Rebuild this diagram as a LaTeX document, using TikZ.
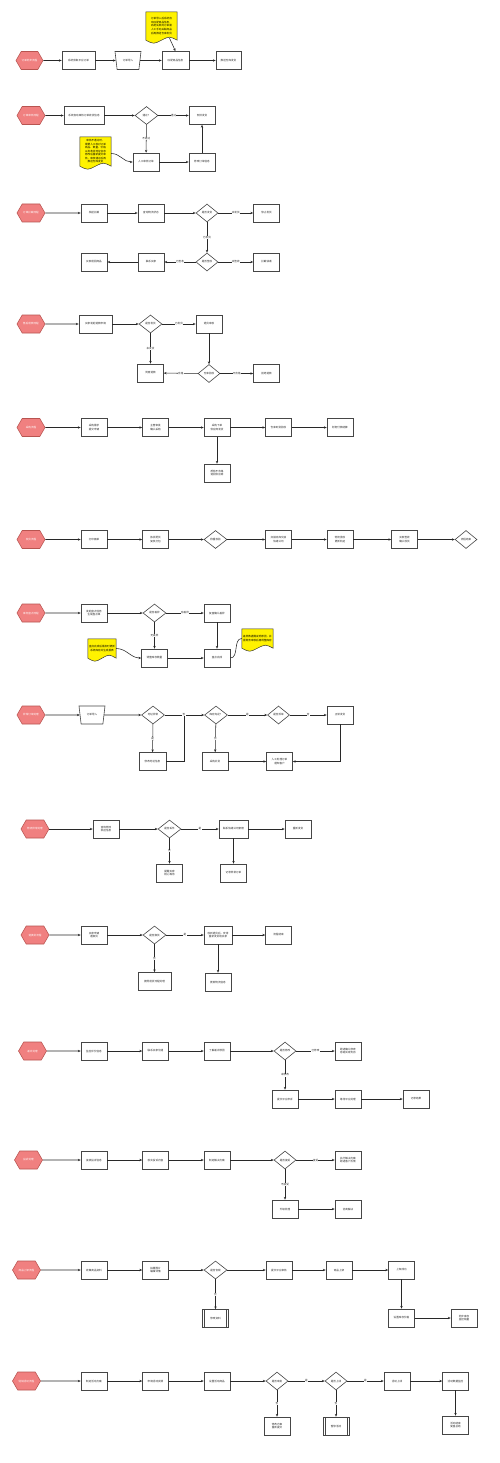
\documentclass[tikz,border=0pt]{standalone}
\usepackage{fontspec}
\setmainfont{Noto Sans CJK SC}
\usetikzlibrary{shapes.geometric,shapes.symbols,arrows.meta,backgrounds,calc}
\definecolor{hexfill}{RGB}{240,128,128}
\definecolor{hexdraw}{RGB}{184,84,80}
\definecolor{boxdraw}{RGB}{70,70,70}
\definecolor{linecol}{RGB}{40,40,40}
\definecolor{txt}{RGB}{40,40,40}
\definecolor{notefill}{RGB}{255,242,0}
\newcommand\tinyfs{\fontsize{2.6}{3.2}\selectfont}
\tikzset{
 hexa/.style={signal, signal to=west and east, signal pointer angle=120, draw=hexdraw, fill=hexfill, text=white, minimum width=27pt, minimum height=18pt, inner sep=0pt, font=\tinyfs, line width=0.55pt},
 box/.style={rectangle, draw=boxdraw, fill=white, text=txt, minimum width=26pt, minimum height=18pt, inner sep=0.5pt, align=center, font=\tinyfs, line width=0.6pt},
 dia/.style={diamond, draw=boxdraw, fill=white, text=txt, minimum width=23pt, minimum height=18pt, inner sep=0pt, aspect=1.3, font=\tinyfs, line width=0.6pt},
 trap/.style={trapezium, trapezium stretches=true, shape border rotate=180, trapezium left angle=72, trapezium right angle=72, draw=boxdraw, fill=white, text=txt, minimum width=26pt, minimum height=18pt, inner sep=0.5pt, font=\tinyfs, line width=0.6pt},
 proc/.style={box, path picture={\draw[boxdraw, line width=0.6pt] ([xshift=2.2pt]path picture bounding box.north west) -- ([xshift=2.2pt]path picture bounding box.south west) ([xshift=-2.2pt]path picture bounding box.north east) -- ([xshift=-2.2pt]path picture bounding box.south east);}},
 arr/.style={draw=linecol, line width=0.55pt, -{Stealth[length=2.8pt,width=2.3pt]}},
 ln/.style={draw=linecol, line width=0.55pt},
 lbl/.style={fill=white, inner sep=0.3pt, font=\tinyfs, text=txt},
 notetext/.style={align=center, text=black, inner sep=0.5pt},
 notebg/.style={fill=notefill, draw=black!80, line width=0.5pt}
}
% name, position, width, height, font, text
\newcommand\docnote[6]{%
 \node[notetext, minimum width=#3, minimum height=#4, font=#5] (#1) at #2 {#6};
 \begin{scope}[on background layer]
 \draw[notebg] (#1.north west) -- (#1.north east) -- (#1.south east)
   .. controls ($(#1.south east)!0.25!(#1.south west)+(0,4pt)$) .. (#1.south)
   .. controls ($(#1.south east)!0.75!(#1.south west)+(0,-4pt)$) .. (#1.south west) -- cycle;
 \end{scope}}
\begin{document}
\begin{tikzpicture}[x=1pt,y=-1pt]
\begin{scope}[on background layer]
\fill[white] (0,0) rectangle (500,1463);
\end{scope}
\useasboundingbox (0,0) rectangle (500,1463);

% ---------- Row 1
\node[hexa] (h1) at (29.5,60.5) {订单同步流程};
\node[box, minimum width=33pt] (a1) at (78.5,60.5) {系统获取平台订单};
\node[trap] (a2) at (128,60.5) {订单导入};
\node[box, minimum width=27pt] (a3) at (175.5,60.5) {匹配商品信息};
\node[box, minimum width=25pt] (a4) at (228.5,60.5) {推送仓库发货};
\docnote{n1}{(161.5,26)}{31pt}{28pt}{\fontsize{2.6}{3.9}\selectfont}{订单导入后系统自\\动匹配商品信息，\\匹配失败的订单需\\人工手动关联商品\\后再推送仓库发货}
\draw[arr] (h1) -- (a1);
\draw[arr] (a1) -- (a2);
\draw[arr] (a2) -- (a3);
\draw[arr] (a3) -- (a4);
\draw[arr] ([xshift=8pt,yshift=2pt]n1.south) -- (a3.north);

% ---------- Row 2
\node[hexa, minimum width=28pt] (h2) at (31,115.5) {订单审核流程};
\node[box, minimum width=40pt] (b1) at (84,115.5) {系统自动审核订单收货信息};
\node[dia] (bd) at (146.5,115.5) {通过？};
\node[box] (b2) at (202,115.5) {安排发货};
\node[box] (b3) at (146,162) {人工审核订单};
\node[box] (b4) at (202,162) {修改订单信息};
\docnote{n2}{(95.5,151.5)}{31pt}{29pt}{\fontsize{2.6}{3.5}\selectfont}{审核不通过时，\\需要人工核对订单\\商品、数量、价格\\以及收货地址信息\\修改后重新提交审\\核，审核通过后再\\推送仓库发货}
\draw[arr] (h2) -- (b1);
\draw[arr] (b1) -- (bd);
\draw[arr] (bd) -- node[lbl]{通过} (b2);
\draw[arr] (bd) -- node[lbl]{不通过} (b3);
\draw[arr] (b3) -- (b4);
\draw[arr] (b4) -- (b2);
\draw[arr] ([yshift=-2pt]n2.east) to[out=0,in=180] (b3.west);

% ---------- Row 3
\node[hexa, minimum width=28pt] (h3) at (31,213) {订单拦截流程};
\node[box] (c1) at (94,213) {发起拦截};
\node[box] (c2) at (151,213) {查询物流状态};
\node[dia, minimum width=22pt] (cd1) at (207,213) {是否发货};
\node[box] (c3) at (266.5,213) {停止发货};
\node[dia, minimum width=22pt] (cd2) at (207,262) {是否签收};
\node[box] (c4) at (266.5,262) {拦截快递};
\node[box] (c5) at (151,262) {联系买家};
\node[box] (c6) at (94,262) {买家退回商品};
\draw[arr] (h3) -- (c1);
\draw[arr] (c1) -- (c2);
\draw[arr] (c2) -- (cd1);
\draw[arr] (cd1) -- node[lbl]{未发货} (c3);
\draw[arr] (cd1) -- node[lbl]{已发货} (cd2);
\draw[arr] (cd2) -- node[lbl]{未签收} (c4);
\draw[arr] (cd2) -- node[lbl]{已签收} (c5);
\draw[arr] (c5) -- (c6);

% ---------- Row 4
\node[hexa, minimum width=28pt] (h4) at (31,324) {售后退款流程};
\node[box, minimum width=33pt] (e1) at (95.5,324) {买家发起退款申请};
\node[dia] (ed1) at (150.5,324) {是否发货};
\node[box] (e2) at (209,324) {退货审核};
\node[dia, minimum width=22pt] (ed2) at (209,373.5) {仓库验收};
\node[box] (e3) at (150.5,373) {同意退款};
\node[box] (e4) at (266.5,373.5) {拒绝退款};
\draw[arr] (h4) -- (e1);
\draw[arr] (e1) -- (ed1);
\draw[arr] (ed1) -- node[lbl]{已发货} (e2);
\draw[arr] (ed1) -- node[lbl]{未发货} (e3);
\draw[arr] (e2) -- (ed2);
\draw[arr] (ed2) -- node[lbl]{合格} (e3);
\draw[arr] (ed2) -- node[lbl]{不合格} (e4);

% ---------- Row 5
\node[hexa, minimum width=28pt] (h5) at (31,427.5) {采购流程};
\node[box] (f1) at (94,427.5) {采购需求\\提交申请};
\node[box] (f2) at (155.5,427.5) {主管审批\\确认采购};
\node[box] (f3) at (217,427.5) {采购下单\\供应商发货};
\node[box] (f4) at (278.5,427.5) {仓库到货验收};
\node[box] (f5) at (340,427.5) {财务付款结算};
\node[box] (f6) at (217,473) {质检不合格\\退回供应商};
\draw[arr] (h5) -- (f1);
\draw[arr] (f1) -- (f2);
\draw[arr] (f2) -- (f3);
\draw[arr] (f3) -- (f4);
\draw[arr] (f4) -- (f5);
\draw[arr] (f3) -- (f6);

% ---------- Row 6
\node[hexa, minimum width=28pt] (h6) at (31,539.5) {发货流程};
\node[box] (g1) at (94,539.5) {打印面单};
\node[box] (g2) at (155.5,539.5) {拣货配货\\复核打包};
\node[dia] (gd1) at (215.5,539.5) {称重校验};
\node[box] (g3) at (278.5,539.5) {扫描出库交接\\快递公司};
\node[box] (g4) at (340,539.5) {物流揽收\\更新轨迹};
\node[box] (g5) at (404.5,539.5) {买家签收\\确认收货};
\node[dia, minimum width=22pt] (gd2) at (466,539.5) {流程结束};
\draw[arr] (h6) -- (g1);
\draw[arr] (g1) -- (g2);
\draw[arr] (g2) -- (gd1);
\draw[arr] (gd1) -- (g3);
\draw[arr] (g3) -- (g4);
\draw[arr] (g4) -- (g5);
\draw[arr] (g5) -- (gd2);

% ---------- Row 7
\node[hexa, minimum width=28pt] (h7) at (31,613) {库存盘点流程};
\node[box] (i1) at (94,613) {发起盘点任务\\生成盘点单};
\node[dia] (id) at (154.5,613) {是否差异};
\node[box] (i2) at (217,613) {复盘确认差异};
\node[box] (i3) at (154.5,658) {调整库存数量};
\node[box] (i4) at (217,658) {盘点完成};
\docnote{n3}{(102,648.5)}{28pt}{19pt}{\fontsize{2.6}{3.5}\selectfont}{盘点完成后需及时更新\\系统库存并生成报表}
\docnote{n4}{(257.5,638.5)}{31pt}{19pt}{\fontsize{2.6}{3.5}\selectfont}{差异数据需说明原因，并\\报财务审核后再调整库存}
\draw[arr] (h7) -- (i1);
\draw[arr] (i1) -- (id);
\draw[arr] (id) -- node[lbl]{有差异} (i2);
\draw[arr] (id) -- node[lbl]{无差异} (i3);
\draw[arr] (i2) -- (i4);
\draw[arr] (i3) -- (i4);
\draw[arr] (n3.east) to[out=0,in=180] (i3.west);
\draw[ln] (i4.east) to[out=0,in=180] (n4.west);

% ---------- Row 8
\node[hexa, minimum width=28pt] (h8) at (31,715) {异常订单处理};
\node[trap] (j1) at (92,715) {订单导入};
\node[dia] (jd1) at (153,715) {地址异常};
\node[dia] (jd2) at (216,715) {库存充足？};
\node[dia, minimum width=22pt] (jd3) at (278.5,715) {是否拆单};
\node[box] (j2) at (340,715) {正常发货};
\node[box, minimum width=27pt] (j3) at (152.5,761.5) {修改地址信息};
\node[box] (j4) at (215,761.5) {采购补货};
\node[box] (j5) at (279.5,761.5) {人工处理订单\\通知客户};
\coordinate (k8) at (184,715);
\draw[arr] (h8) -- (j1);
\draw[arr] (j1) -- (jd1);
\draw[arr] (jd1) -- (jd2);
\draw[ln] (j3) -| (k8);
\node[lbl] at (k8) {否};
\draw[arr] (jd1) -- node[lbl]{是} (j3);
\draw[arr] (jd2) -- node[lbl]{是} (jd3);
\draw[arr] (jd3) -- node[lbl]{否} (j2);
\draw[arr] (jd2) -- node[lbl]{否} (j4);
\draw[arr] (j4) -- (j5);
\draw[arr] (j2) |- (j5);

% ---------- Row 9
\node[hexa, minimum width=28pt] (h9) at (35,829) {物流异常处理};
\node[box] (l1) at (106,829) {查询物流\\轨迹信息};
\node[dia] (ld) at (169.5,829) {是否丢件};
\node[box, minimum width=29pt] (l2) at (233.5,829) {联系快递公司索赔};
\node[box] (l3) at (298,829) {重新发货};
\node[box] (l4) at (169.5,873) {提醒买家\\耐心等待};
\node[box] (l5) at (233.5,873) {记录异常订单};
\draw[arr] (h9) -- (l1);
\draw[arr] (l1) -- (ld);
\draw[arr] (ld) -- node[lbl]{是} (l2);
\draw[arr] (l2) -- (l3);
\draw[arr] (ld) -- node[lbl]{否} (l4);
\draw[arr] (l2) -- (l5);

% ---------- Row 10
\node[hexa, minimum width=28pt] (h10) at (35,935) {退换货流程};
\node[box] (m1) at (94,935) {买家申请\\退换货};
\node[dia] (md) at (154.5,935) {是否换货};
\node[box, minimum width=28pt] (m2) at (218,935) {收到退货后，安排\\重新发货给买家};
\node[box] (m3) at (278.5,935) {流程结束};
\node[box, minimum width=33pt] (m4) at (154.5,981.5) {按照退货流程处理};
\node[box] (m5) at (218,982) {更新物流信息};
\draw[arr] (h10) -- (m1);
\draw[arr] (m1) -- (md);
\draw[arr] (md) -- node[lbl]{是} (m2);
\draw[arr] (m2) -- (m3);
\draw[arr] (md) -- node[lbl]{否} (m4);
\draw[arr] (m2) -- (m5);

% ---------- Row 11
\node[hexa, minimum width=28pt] (h11) at (32.5,1051) {差评处理};
\node[box] (o1) at (94,1051) {监控评价信息};
\node[box] (o2) at (155.5,1051) {联系买家沟通};
\node[box] (o3) at (217,1051) {了解差评原因};
\node[dia, minimum width=22pt] (od) at (285,1051) {是否修改};
\node[box] (o4) at (348,1051) {跟进确认修改\\感谢买家支持};
\node[box] (o5) at (285,1099) {提交平台申诉};
\node[box] (o6) at (348,1099) {等待平台处理};
\node[box] (o7) at (416,1099) {记录结果};
\draw[arr] (h11) -- (o1);
\draw[arr] (o1) -- (o2);
\draw[arr] (o2) -- (o3);
\draw[arr] (o3) -- (od);
\draw[arr] (od) -- node[lbl]{已修改} (o4);
\draw[arr] (od) -- node[lbl]{未修改} (o5);
\draw[arr] (o5) -- (o6);
\draw[arr] (o6) -- (o7);

% ---------- Row 12
\node[hexa, minimum width=28pt] (h12) at (28.5,1160) {投诉处理};
\node[box] (p1) at (94,1160) {接收投诉信息};
\node[box] (p2) at (155.5,1160) {核实投诉内容};
\node[box] (p3) at (217,1160) {制定解决方案};
\node[dia, minimum width=22pt] (pd) at (285,1160) {是否接受};
\node[box] (p4) at (348,1160) {执行解决方案\\跟进客户反馈};
\node[box] (p5) at (285,1209) {升级处理};
\node[box] (p6) at (348,1209) {协商解决};
\draw[arr] (h12) -- (p1);
\draw[arr] (p1) -- (p2);
\draw[arr] (p2) -- (p3);
\draw[arr] (p3) -- (pd);
\draw[arr] (pd) -- node[lbl]{接受} (p4);
\draw[arr] (pd) -- node[lbl]{不接受} (p5);
\draw[arr] (p5) -- (p6);

% ---------- Row 13
\node[hexa, minimum width=28pt] (h13) at (26.5,1270) {商品上架流程};
\node[box] (q1) at (94,1270) {收集商品资料};
\node[box] (q2) at (155.5,1270) {拍摄图片\\编辑详情};
\node[dia] (qd) at (215.5,1270) {是否合规};
\node[box] (q3) at (279,1270) {提交平台审核};
\node[box] (q4) at (339,1270) {商品上架};
\node[box] (q5) at (401.5,1270) {上架成功};
\node[proc] (q6) at (215.5,1318.5) {修改资料};
\node[box] (q7) at (401.5,1318) {设置库存价格};
\node[box] (q8) at (464,1318) {同步库存\\监控销量};
\draw[arr] (h13) -- (q1);
\draw[arr] (q1) -- (q2);
\draw[arr] (q2) -- (qd);
\draw[arr] (qd) -- (q3);
\draw[arr] (q3) -- (q4);
\draw[arr] (q4) -- (q5);
\draw[arr] (qd) -- node[lbl]{否} (q6);
\draw[arr] (q5) -- (q7);
\draw[arr] (q7) -- (q8);

% ---------- Row 14
\node[hexa, minimum width=28pt] (h14) at (26.5,1381) {促销活动流程};
\node[box] (r1) at (94,1381) {制定活动方案};
\node[box] (r2) at (155.5,1381) {申请活动资源};
\node[box] (r3) at (217,1381) {设置活动商品};
\node[dia, minimum width=22pt] (rd1) at (277,1381) {是否审批};
\node[dia, minimum width=22pt] (rd2) at (336,1381) {是否上线};
\node[box] (r4) at (397,1381) {活动上线};
\node[box] (r5) at (455.5,1381) {活动数据监控};
\node[box] (r6) at (277,1426) {修改方案\\重新提交};
\node[proc] (r7) at (336,1426) {暂停活动};
\node[box] (r8) at (455.5,1425) {活动结束\\复盘总结};
\draw[arr] (h14) -- (r1);
\draw[arr] (r1) -- (r2);
\draw[arr] (r2) -- (r3);
\draw[arr] (r3) -- (rd1);
\draw[arr] (rd1) -- node[lbl]{是} (rd2);
\draw[arr] (rd2) -- node[lbl]{是} (r4);
\draw[arr] (r4) -- (r5);
\draw[arr] (rd1) -- node[lbl]{否} (r6);
\draw[arr] (rd2) -- node[lbl]{否} (r7);
\draw[arr] (r5) -- (r8);
\end{tikzpicture}
\end{document}
